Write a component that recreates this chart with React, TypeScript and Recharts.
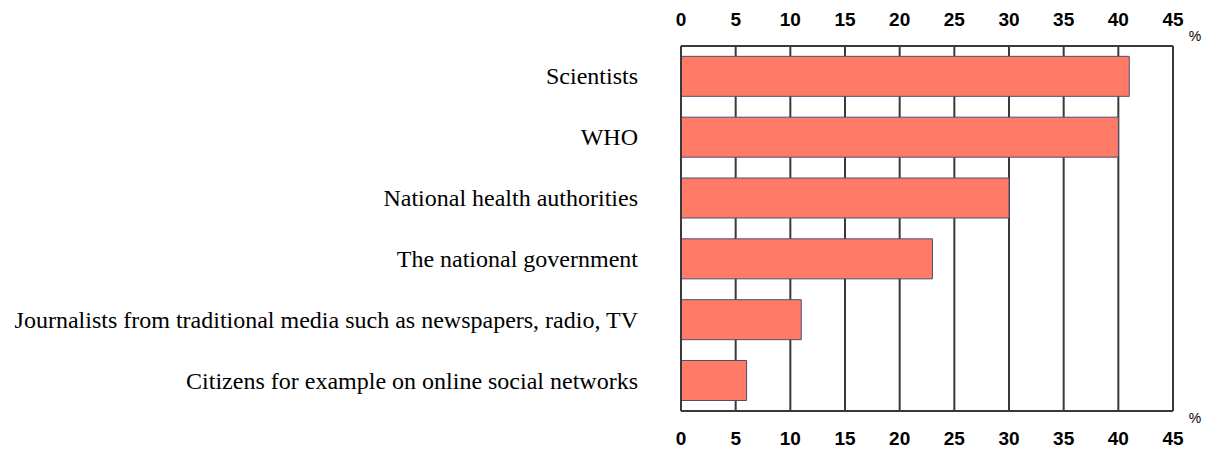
import React from "react";
import { ComposedChart, Bar, Line, XAxis, YAxis, CartesianGrid, Label } from "recharts";

const categories = [
  "Scientists",
  "WHO",
  "National health authorities",
  "The national government",
  "Journalists from traditional media such as newspapers, radio, TV",
  "Citizens for example on online social networks",
];
const values = [41, 40, 30, 23, 11, 6];
const xTicks = [0, 5, 10, 15, 20, 25, 30, 35, 40, 45];

const data = categories.map((name, i) => ({ name, value: values[i] }));

const SANS = "'Liberation Sans', Arial, sans-serif";
const SERIF = "'Liberation Serif', 'Times New Roman', Times, serif";
const GRID = "#3a3a3a";

const TopTick = (props: any) => {
  const { x, y, payload } = props;
  return (
    <text x={x} y={y + 1} textAnchor="middle" fill="#000" fontFamily={SANS} fontWeight={700} fontSize={19}>
      {payload.value}
    </text>
  );
};

const BottomTick = (props: any) => {
  const { x, y, payload } = props;
  return (
    <text x={x} y={y + 14} textAnchor="middle" fill="#000" fontFamily={SANS} fontWeight={700} fontSize={19}>
      {payload.value}
    </text>
  );
};

const CatTick = (props: any) => {
  const { x, y, payload } = props;
  return (
    <text x={x} y={y + 8} textAnchor="end" fill="#000" fontFamily={SERIF} fontSize={24}>
      {payload.value}
    </text>
  );
};

const pct = (dy: number) => (props: any) => {
  const vb = props.viewBox || {};
  const x = (vb.x ?? 0) + (vb.width ?? 0) + 22;
  const y = (vb.y ?? 0) + (vb.height ?? 0) / 2 + dy;
  return (
    <text x={x} y={y} textAnchor="middle" fill="#000" fontFamily={SANS} fontSize={14}>
      %
    </text>
  );
};

export default function App() {
  return (
    <div style={{ position: "absolute", left: 0, top: 0, width: 1211, height: 451, background: "#fff" }}>
      <ComposedChart
        width={1211}
        height={451}
        data={data}
        layout="vertical"
        margin={{ top: 16, right: 38, bottom: 10, left: 0 }}
        barCategoryGap="17%"
      >
        <CartesianGrid xAxisId="top" horizontal={false} vertical={true} stroke={GRID} strokeWidth={2} strokeOpacity={1} />
        <XAxis
          xAxisId="top"
          orientation="top"
          type="number"
          domain={[0, 45]}
          ticks={xTicks}
          interval={0}
          height={30}
          tickLine={false}
          tickSize={0}
          tickMargin={21}
          axisLine={{ stroke: GRID, strokeWidth: 2 }}
          tick={<TopTick />}
        >
          <Label content={pct(10)} />
        </XAxis>
        <XAxis
          xAxisId="bottom"
          orientation="bottom"
          type="number"
          domain={[0, 45]}
          ticks={xTicks}
          interval={0}
          height={30}
          tickLine={false}
          tickSize={0}
          tickMargin={20}
          axisLine={{ stroke: GRID, strokeWidth: 2 }}
          tick={<BottomTick />}
        >
          <Label content={pct(-3)} />
        </XAxis>
        <YAxis
          type="category"
          dataKey="name"
          width={681}
          interval={0}
          tickLine={false}
          tickSize={0}
          tickMargin={43}
          axisLine={{ stroke: GRID, strokeWidth: 2 }}
          tick={<CatTick />}
        />
        <Bar
          xAxisId="top"
          dataKey="value"
          fill="#FF7B67"
          stroke="#4f4f6f"
          strokeWidth={1}
          isAnimationActive={false}
        />
        <Line
          xAxisId="bottom"
          dataKey="value"
          stroke="none"
          strokeWidth={0}
          dot={false}
          activeDot={false}
          legendType="none"
          isAnimationActive={false}
        />
      </ComposedChart>
    </div>
  );
}
